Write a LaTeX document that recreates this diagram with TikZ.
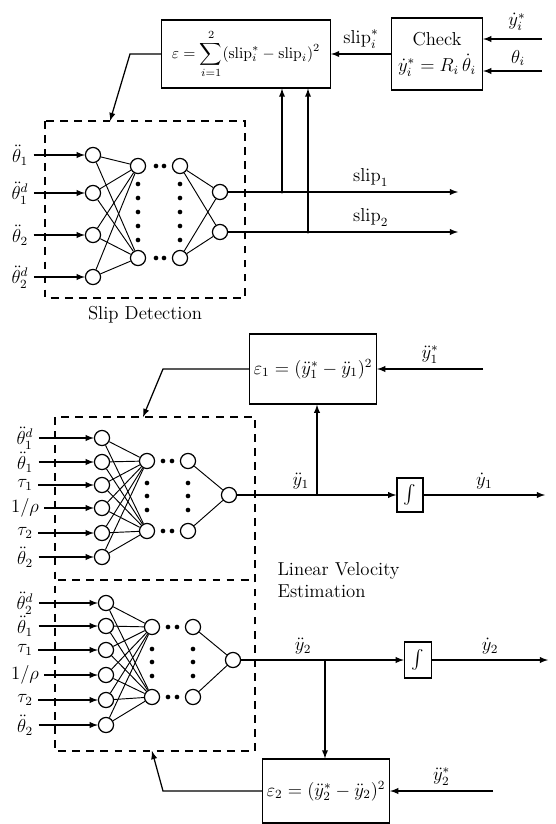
\documentclass[tikz,border=0pt]{standalone}
\usepackage{amsmath,amssymb}
\usetikzlibrary{arrows,positioning}

\begin{document}
\begin{tikzpicture}[x=0.0225cm,y=-0.0225cm,>=latex,font=\large,
  neuron/.style={circle,draw,thick,minimum size=0.34cm,inner sep=0pt},
  block/.style={rectangle,draw,thick,align=center,inner sep=2pt},
  netbox/.style={draw,thick,dash pattern=on 5pt off 4pt},
  wire/.style={thick},
  link/.style={semithick}]
\useasboundingbox (0,0) rectangle (555,824);

% Error and check blocks
\node[block,minimum width=3.8cm,minimum height=1.53cm,font=\normalsize] (eps) at (246,54)
  {$\varepsilon=\displaystyle\sum_{i=1}^{2}(\mathrm{slip}_i^{*}-\mathrm{slip}_i)^2$};
\node[block,minimum width=2.05cm,minimum height=1.62cm] (check) at (437,54)
  {Check\\[3pt] $\dot y_i^{*}=R_i\,\dot\theta_i$};

\coordinate (yin) at (542,39);
\coordinate (thin) at (542,71);
\draw[->,wire] (yin) -- (yin -| check.east);
\draw[->,wire] (thin) -- (thin -| check.east);
\node (yinlab) at (517,22) {$\dot y_i^{*}$};
\node (thinlab) at (518,58) {$\theta_i$};
\draw[->,wire] (check.west) -- (eps.east) node[midway,above] (sliplab) {$\mathrm{slip}_i^{*}$};

% Feedback into slip detection
\coordinate (fbA) at (130,54);
\coordinate (fbB) at (110,121);
\draw[->,wire] (eps.west) -- (fbA) -- (fbB);

% Slip detection network
\draw[netbox] (45,121) rectangle (245,298);
\foreach \y/\lab [count=\i] in {155/{\ddot\theta_1},193/{\ddot\theta_1^d},235/{\ddot\theta_2},277/{\ddot\theta_2^d}} {
  \node[neuron] (sdIn\i) at (93,\y) {};
  \node (sdLab\i) at (20,\y) {$\lab$};
  \draw[->,wire] (sdLab\i.east) -- (sdIn\i);
}
\node[neuron] (sdHa) at (138,166) {};
\node[neuron] (sdHb) at (138,258) {};
\node[neuron] (sdGa) at (180,166) {};
\node[neuron] (sdGb) at (180,258) {};
\node[neuron] (sdOa) at (220,192) {};
\node[neuron] (sdOb) at (220,232) {};
\foreach \i in {1,...,4} {
  \draw[link] (sdIn\i) -- (sdHa);
  \draw[link] (sdIn\i) -- (sdHb);
}
\foreach \h in {sdGa,sdGb} {
  \draw[link] (\h) -- (sdOa);
  \draw[link] (\h) -- (sdOb);
}
\foreach \y in {184,198,212,226,240} {
  \fill (138,\y) circle (1.5pt);
  \fill (180,\y) circle (1.5pt);
}
\foreach \y in {166,258} {
  \fill (156,\y) circle (1.5pt);
  \fill (164,\y) circle (1.5pt);
}

% Slip outputs
\coordinate (slipAend) at (458,192);
\coordinate (slipBend) at (458,232);
\draw[->,wire] (sdOa) -- (slipAend) node[pos=0.62,above] (slipAlab) {$\mathrm{slip}_1$};
\draw[->,wire] (sdOb) -- (slipBend) node[pos=0.62,above] (slipBlab) {$\mathrm{slip}_2$};
\coordinate (tapA) at (282,192);
\coordinate (tapB) at (308,232);
\draw[->,wire] (tapA) -- (tapA |- eps.south);
\draw[->,wire] (tapB) -- (tapB |- eps.south);
\fill (tapA) circle (1pt);
\fill (tapB) circle (1pt);
\node (sdTitle) at (145,315) {Slip Detection};

% Linear velocity estimation, error blocks
\node[block,minimum width=2.86cm,minimum height=1.58cm] (epsA) at (313,369)
  {$\varepsilon_1=(\ddot y_1^{*}-\ddot y_1)^2$};
\node[block,minimum width=2.86cm,minimum height=1.44cm] (epsB) at (326,791)
  {$\varepsilon_2=(\ddot y_2^{*}-\ddot y_2)^2$};
\coordinate (refA) at (483,369);
\coordinate (refB) at (493,791);
\draw[->,wire] (refA) -- (epsA.east) node[midway,above] (refAlab) {$\ddot y_1^{*}$};
\draw[->,wire] (refB) -- (epsB.east) node[midway,above] (refBlab) {$\ddot y_2^{*}$};
\coordinate (fbCa) at (163,369);
\coordinate (fbCb) at (143,417);
\draw[->,wire] (epsA.west) -- (fbCa) -- (fbCb);
\coordinate (fbDa) at (163,791);
\coordinate (fbDb) at (152,751);
\draw[->,wire] (epsB.west) -- (fbDa) -- (fbDb);

% Dashed frame of both nets
\draw[netbox] (55,417) rectangle (255,751);
\draw[netbox] (58,580) -- (255,580);

% Upper net (y1)
\foreach \y/\lab [count=\i] in {438/{\ddot\theta_1^d},462/{\ddot\theta_1},485/{\tau_1},508/{1/\rho},533/{\tau_2},557/{\ddot\theta_2}} {
  \node[neuron] (vaIn\i) at (102,\y) {};
  \node (vaLab\i) at (25,\y) {$\lab$};
  \draw[->,wire] (vaLab\i.east) -- (vaIn\i);
}
\node[neuron] (vaHa) at (147,461) {};
\node[neuron] (vaHb) at (147,531) {};
\node[neuron] (vaGa) at (188,461) {};
\node[neuron] (vaGb) at (188,531) {};
\node[neuron] (vaOut) at (229,495) {};
\foreach \i in {1,...,6} {
  \draw[link] (vaIn\i) -- (vaHa);
  \draw[link] (vaIn\i) -- (vaHb);
}
\draw[link] (vaGa) -- (vaOut);
\draw[link] (vaGb) -- (vaOut);
\foreach \y in {483,496,510} {
  \fill (147,\y) circle (1.5pt);
  \fill (188,\y) circle (1.5pt);
}
\foreach \y in {461,531} {
  \fill (163,\y) circle (1.5pt);
  \fill (172,\y) circle (1.5pt);
}
\node[block,minimum width=0.59cm,minimum height=0.77cm] (intA) at (410,495) {$\int$};
\draw[->,wire] (vaOut) -- (intA) node[pos=0.4,above] (accAlab) {$\ddot y_1$};
\coordinate (tapC) at (317,495);
\draw[->,wire] (tapC) -- (tapC |- epsA.south);
\coordinate (velAend) at (545,495);
\draw[->,wire] (intA) -- (velAend) node[midway,above] (velAlab) {$\dot y_1$};

\node[align=left,anchor=west] (lveTitle) at (272,580) {Linear Velocity\\Estimation};

% Lower net (y2)
\foreach \y/\lab [count=\i] in {603/{\ddot\theta_2^d},626/{\ddot\theta_1},650/{\tau_1},675/{1/\rho},700/{\tau_2},725/{\ddot\theta_2}} {
  \node[neuron] (vbIn\i) at (106,\y) {};
  \node (vbLab\i) at (25,\y) {$\lab$};
  \draw[->,wire] (vbLab\i.east) -- (vbIn\i);
}
\node[neuron] (vbHa) at (152,627) {};
\node[neuron] (vbHb) at (152,697) {};
\node[neuron] (vbGa) at (193,627) {};
\node[neuron] (vbGb) at (193,697) {};
\node[neuron] (vbOut) at (233,660) {};
\foreach \i in {1,...,6} {
  \draw[link] (vbIn\i) -- (vbHa);
  \draw[link] (vbIn\i) -- (vbHb);
}
\draw[link] (vbGa) -- (vbOut);
\draw[link] (vbGb) -- (vbOut);
\foreach \y in {649,662,676} {
  \fill (152,\y) circle (1.5pt);
  \fill (193,\y) circle (1.5pt);
}
\foreach \y in {627,697} {
  \fill (168,\y) circle (1.5pt);
  \fill (177,\y) circle (1.5pt);
}
\node[block,minimum width=0.61cm,minimum height=0.81cm] (intB) at (418,660) {$\int$};
\draw[->,wire] (vbOut) -- (intB) node[pos=0.38,above] (accBlab) {$\ddot y_2$};
\coordinate (tapD) at (325,660);
\draw[->,wire] (tapD) -- (tapD |- epsB.north);
\coordinate (velBend) at (548,660);
\draw[->,wire] (intB) -- (velBend) node[midway,above] (velBlab) {$\dot y_2$};
\end{tikzpicture}
\end{document}
